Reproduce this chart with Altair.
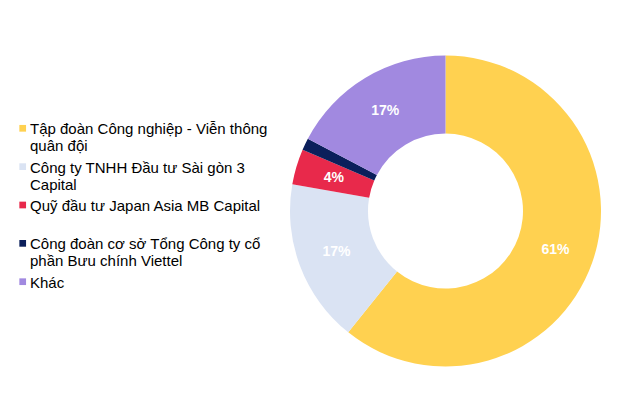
import altair as alt
import pandas as pd

categories = [
    "Tập đoàn Công nghiệp - Viễn thông quân đội",
    "Công ty TNHH Đầu tư Sài gòn 3 Capital",
    "Quỹ đầu tư Japan Asia MB Capital",
    "Công đoàn cơ sở Tổng Công ty cổ phần Bưu chính Viettel",
    "Khác",
]
legend_labels = [
    "Tập đoàn Công nghiệp - Viễn thông\nquân đội",
    "Công ty TNHH Đầu tư Sài gòn 3\nCapital",
    "Quỹ đầu tư Japan Asia MB Capital",
    "Công đoàn cơ sở Tổng Công ty cổ\nphần Bưu chính Viettel",
    "Khác",
]
values = [60.75, 17.0, 3.7, 1.25, 17.3]
slice_labels = ["61%", "17%", "4%", "", "17%"]
colors = ["#FFD150", "#DAE3F3", "#E8294B", "#0B1F5B", "#A189E0"]

df = pd.DataFrame({
    "category": categories,
    "legend_label": legend_labels,
    "value": values,
    "label": slice_labels,
    "row": list(range(len(categories))),
})

color = alt.Color("category:N", scale=alt.Scale(domain=categories, range=colors), legend=None)
cx, cy = 437.5, 203

base = alt.Chart(df)

arc = base.mark_arc(outerRadius=155.5, innerRadius=77.5).encode(
    theta=alt.Theta("value:Q", stack=True),
    order=alt.Order("row:Q"),
    color=color,
    x=alt.value(cx),
    y=alt.value(cy),
)

arc_text = base.mark_text(
    radius=116.5, font="Liberation Sans", fontSize=14, fontWeight="bold", color="white"
).encode(
    theta=alt.Theta("value:Q", stack=True),
    order=alt.Order("row:Q"),
    text="label:N",
    x=alt.value(cx),
    y=alt.value(cy),
)

yrow = alt.Y("row:Q", scale=alt.Scale(domain=[0, 4], range=[120.3, 273.7]), axis=None)

leg_sym = base.mark_square(size=45, opacity=1).encode(
    x=alt.value(14.7),
    y=yrow,
    color=color,
)

leg_text = base.mark_text(
    align="left", baseline="alphabetic", dy=6, lineBreak="\n",
    font="Liberation Sans", fontSize=15, color="#000000", lineHeight=17,
).encode(
    x=alt.value(22),
    y=yrow,
    text="legend_label:N",
)

chart = alt.layer(arc, arc_text, leg_sym, leg_text).properties(
    width=608, height=390, padding=0
).configure_view(stroke=None)

chart.save("out.html", embed_options={"renderer": "svg", "actions": False})
